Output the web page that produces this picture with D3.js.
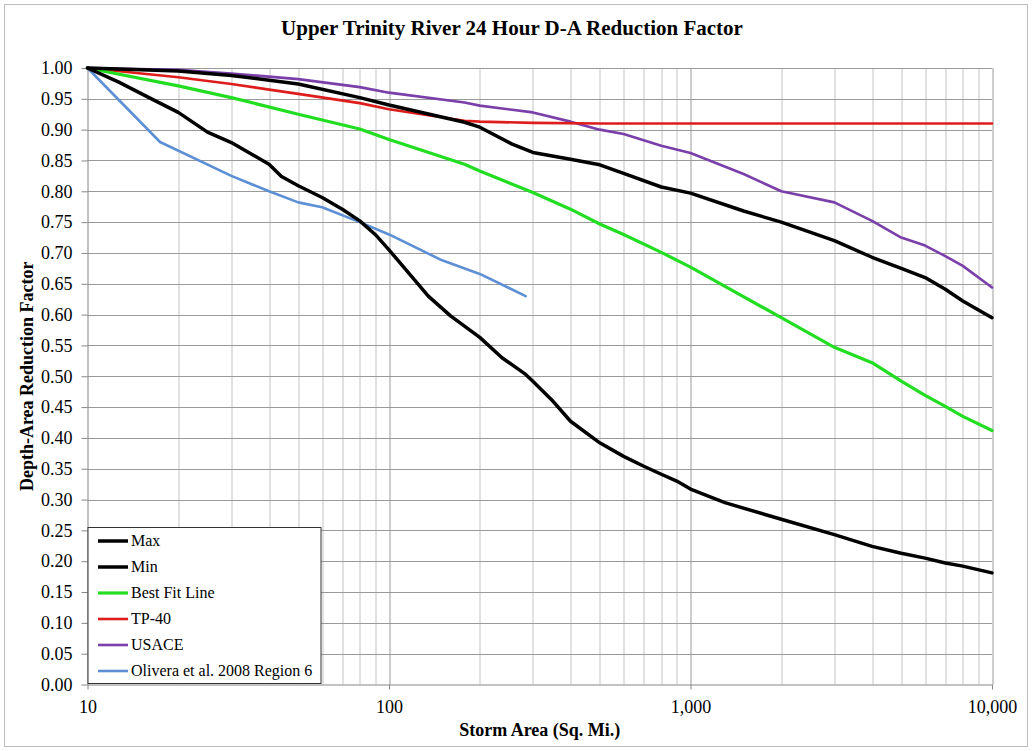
<!DOCTYPE html>
<html>
<head>
<meta charset="utf-8">
<script src="https://cdn.jsdelivr.net/npm/d3@7"></script>
<style>
  body { margin: 0; background: #fff; }
  svg text { font-family: "Liberation Serif", "Times New Roman", serif; fill: #000; }
  .axis path, .axis line { stroke: #868686; }
  .axis text { font-size: 18px; }
</style>
</head>
<body>
<div id="root"></div>
<script>
const WIDTH = 1032;
const HEIGHT = 751;
const margin = { left: 87.5, right: 40, top: 68, bottom: 66.5 };
const innerW = WIDTH - margin.left - margin.right;
const innerH = HEIGHT - margin.top - margin.bottom;

// [storm area (sq. mi.), reduction factor]
const maxData = [[10, 1.0], [20, 0.995], [30, 0.988], [50, 0.974], [80, 0.952], [100, 0.94], [178, 0.912],
  [200, 0.904], [255, 0.877], [300, 0.863], [400, 0.852], [500, 0.843], [600, 0.829], [800, 0.807],
  [1000, 0.797], [1500, 0.768], [2000, 0.75], [3000, 0.72], [4000, 0.693], [5000, 0.675], [6000, 0.66],
  [7000, 0.641], [8000, 0.622], [10000, 0.595]];
const minData = [[10, 1.0], [12.7, 0.977], [16.3, 0.95], [20, 0.928], [25, 0.896], [30, 0.879], [40, 0.844],
  [44, 0.824], [50, 0.809], [60, 0.79], [70, 0.771], [80, 0.752], [90, 0.73], [100, 0.705], [115, 0.67],
  [135, 0.63], [160, 0.598], [200, 0.563], [237, 0.53], [284, 0.503], [300, 0.492], [346, 0.462],
  [400, 0.427], [500, 0.392], [600, 0.37], [700, 0.354], [800, 0.341], [900, 0.33], [1000, 0.317],
  [1300, 0.295], [2000, 0.268], [3000, 0.243], [4000, 0.224], [5000, 0.213], [6000, 0.205], [7000, 0.197],
  [8000, 0.192], [10000, 0.181]];
const bestFitData = [[10, 1.0], [20, 0.971], [30, 0.952], [50, 0.925], [80, 0.901], [100, 0.884], [178, 0.844],
  [200, 0.833], [300, 0.798], [400, 0.771], [500, 0.747], [600, 0.73], [800, 0.701], [1000, 0.677],
  [2000, 0.595], [3000, 0.547], [4000, 0.522], [5000, 0.492], [6000, 0.469], [7000, 0.451], [8000, 0.435],
  [10000, 0.412]];
const tp40Data = [[10, 1.0], [20, 0.985], [30, 0.974], [50, 0.958], [80, 0.943], [100, 0.933], [178, 0.9145],
  [200, 0.913], [300, 0.911], [500, 0.91], [10000, 0.91]];
const usaceData = [[10, 1.0], [20, 0.997], [30, 0.991], [50, 0.982], [80, 0.969], [100, 0.96], [178, 0.944],
  [200, 0.939], [300, 0.928], [400, 0.913], [500, 0.9], [600, 0.893], [800, 0.874], [1000, 0.862],
  [1500, 0.828], [2000, 0.8], [3000, 0.782], [4000, 0.752], [5000, 0.725], [6000, 0.712], [7000, 0.695],
  [8000, 0.679], [10000, 0.644]];
const oliveraData = [[10, 1.0], [17.4, 0.88], [30, 0.825], [40, 0.8], [50, 0.782], [60, 0.774], [80, 0.75],
  [100, 0.73], [150, 0.688], [200, 0.666], [284, 0.63]];

const seriesNames = ['Max', 'Min', 'Best Fit Line', 'TP-40', 'USACE', 'Olivera et al. 2008 Region 6'];
const xTicks = [10, 100, 1000, 10000];
const yTicks = d3.range(0, 21).map(i => i / 20);

const series = [
  { name: seriesNames[0], data: maxData, color: '#000000', width: 3.5 },
  { name: seriesNames[1], data: minData, color: '#000000', width: 3.5 },
  { name: seriesNames[2], data: bestFitData, color: '#22dd22', width: 3.2 },
  { name: seriesNames[3], data: tp40Data, color: '#dd1c1c', width: 2.6 },
  { name: seriesNames[4], data: usaceData, color: '#7a3fa8', width: 2.6 },
  { name: seriesNames[5], data: oliveraData, color: '#5d8fd4', width: 2.6 }
];

const x = d3.scaleLog().domain([10, 10000]).range([0, innerW]);
const y = d3.scaleLinear().domain([0, 1]).range([innerH, 0]);

const root = d3.select('#root').append('svg')
    .attr('width', WIDTH)
    .attr('height', HEIGHT);

root.append('rect')
    .attr('x', 4.5).attr('y', 4.5)
    .attr('width', WIDTH - 9).attr('height', HEIGHT - 9)
    .attr('fill', '#fff')
    .attr('stroke', '#bdbdbd');

root.append('text')
    .attr('x', 512)
    .attr('y', 35)
    .attr('text-anchor', 'middle')
    .style('font-size', '21px')
    .style('font-weight', 'bold')
    .text('Upper Trinity River 24 Hour D-A Reduction Factor');

const svg = root.append('g')
    .attr('transform', `translate(${margin.left}, ${margin.top})`);

// grid
const minor = [];
for (let d = 10; d < 10000; d *= 10) {
    for (let k = 2; k <= 9; k++) minor.push(d * k);
}
svg.append('g').selectAll('line')
    .data(minor)
  .enter().append('line')
    .attr('x1', d => Math.round(x(d)) + 0.5).attr('x2', d => Math.round(x(d)) + 0.5)
    .attr('y1', 0).attr('y2', innerH)
    .attr('stroke', '#c4c4c4');

svg.append('g').selectAll('line')
    .data(xTicks.slice(1))
  .enter().append('line')
    .attr('x1', d => Math.round(x(d)) + 0.5).attr('x2', d => Math.round(x(d)) + 0.5)
    .attr('y1', 0).attr('y2', innerH)
    .attr('stroke', '#9a9a9a');

svg.append('g').selectAll('line')
    .data(yTicks.slice(1))
  .enter().append('line')
    .attr('x1', 0).attr('x2', innerW)
    .attr('y1', d => Math.round(y(d)) + 0.5).attr('y2', d => Math.round(y(d)) + 0.5)
    .attr('stroke', '#9a9a9a');

// axes
svg.append('g')
    .classed('axis axis--y', true)
    .call(d3.axisLeft(y).tickValues(yTicks).tickFormat(d3.format('.2f')).tickSize(6).tickPadding(9))
    .call(g => g.select('.domain').attr('d', `M0.5,${innerH}V0`));

svg.append('g')
    .classed('axis axis--x', true)
    .attr('transform', `translate(0, ${innerH})`)
    .call(d3.axisBottom(x).tickValues(xTicks).tickFormat(d3.format(',')).tickSize(5).tickPadding(11))
    .call(g => g.select('.domain').attr('d', `M0,0.5H${innerW}`));

svg.append('text')
    .attr('x', innerW / 2)
    .attr('y', innerH + 51)
    .attr('text-anchor', 'middle')
    .style('font-size', '18px')
    .style('font-weight', 'bold')
    .text('Storm Area (Sq. Mi.)');

svg.append('text')
    .attr('transform', `translate(${27 - margin.left + 6}, ${innerH / 2}) rotate(-90)`)
    .attr('text-anchor', 'middle')
    .style('font-size', '18px')
    .style('font-weight', 'bold')
    .text('Depth-Area Reduction Factor');

// lines
const line = d3.line()
    .x(d => x(d[0]))
    .y(d => y(d[1]));

svg.append('g').selectAll('path')
    .data(series.slice().reverse())
  .enter().append('path')
    .attr('d', d => line(d.data))
    .attr('fill', 'none')
    .attr('stroke', d => d.color)
    .attr('stroke-width', d => d.width)
    .attr('stroke-linejoin', 'round')
    .attr('stroke-linecap', 'round');

// legend
const legendBox = svg.append('g')
    .attr('transform', `translate(0.5, ${527 - margin.top + 0.5})`);

legendBox.append('rect')
    .attr('width', 233)
    .attr('height', 156)
    .attr('fill', '#fff')
    .attr('stroke', '#333');

const legend = legendBox.selectAll('.legend')
    .data(series)
  .enter().append('g')
    .attr('class', 'legend')
    .attr('transform', (d, i) => `translate(0, ${13.5 + i * 26})`);

legend.append('line')
    .attr('x1', 10).attr('x2', 40)
    .attr('stroke', d => d.color)
    .attr('stroke-width', d => d.width);

legend.append('text')
    .attr('x', 43)
    .attr('dy', '0.33em')
    .style('font-size', '16px')
    .text(d => d.name);
</script>
</body>
</html>
